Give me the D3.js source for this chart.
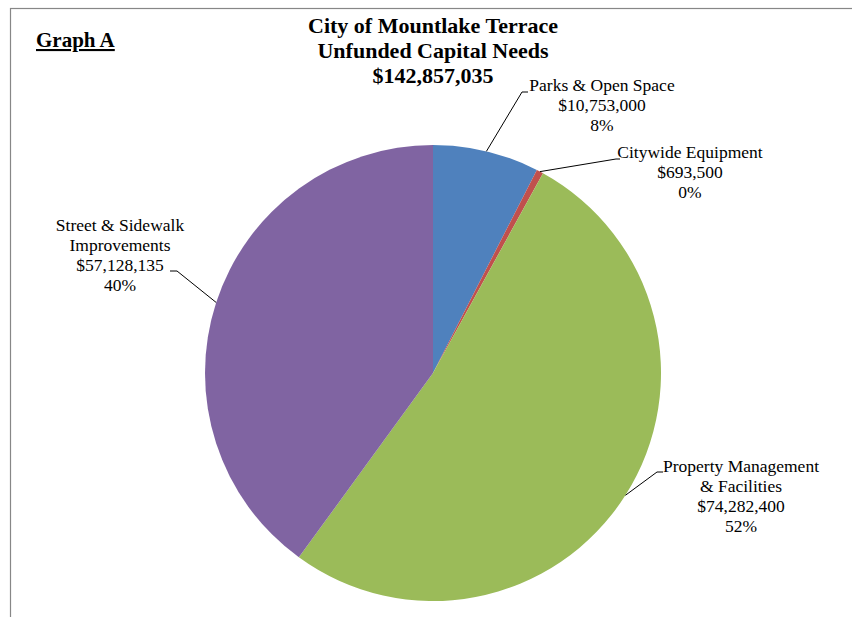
<!DOCTYPE html>
<html>
<head>
<meta charset="utf-8">
<script src="https://cdn.jsdelivr.net/npm/d3@7"></script>
<style>
  html, body { margin: 0; padding: 0; background: #fff; }
  svg text { font-family: "Liberation Serif", "Times New Roman", serif; fill: #000; }
</style>
</head>
<body>
<div id="chart"></div>
<script>
const categories = ["Parks & Open Space", "Citywide Equipment", "Property Management & Facilities", "Street & Sidewalk Improvements"];
const amounts = [10753000, 693500, 74282400, 57128135];
const colors = ["#4F81BD", "#C0504D", "#9BBB59", "#8064A2"];
const labelLines = [
    ["Parks & Open Space"],
    ["Citywide Equipment"],
    ["Property Management", "& Facilities"],
    ["Street & Sidewalk", "Improvements"]
];
const titleLines = ["City of Mountlake Terrace", "Unfunded Capital Needs", "$142,857,035"];

const CHART = { width: 852, height: 617, cx: 433, cy: 373, r: 228 };

// label block anchor (center x, first baseline y) and leader elbow
const labelLayout = [
    { x: 602, y: 91, elbow: [522, 92], end: [528, 92] },
    { x: 690, y: 158, elbow: [616, 159], end: [620, 159] },
    { x: 741, y: 472, elbow: [657, 472], end: [663, 472] },
    { x: 120, y: 231, elbow: [177, 271], end: [170, 271] }
];

const svg = d3.select("#chart").append("svg")
    .attr("width", CHART.width).attr("height", CHART.height);

// frame
svg.append("rect")
    .attr("x", 10.5).attr("y", 8.5)
    .attr("width", CHART.width + 20).attr("height", CHART.height + 20)
    .attr("fill", "none").attr("stroke", "#878787").attr("stroke-width", 1.2);

svg.append("text")
    .attr("x", 36).attr("y", 47)
    .attr("font-size", "21px").attr("font-weight", "bold")
    .attr("text-decoration", "underline")
    .text("Graph A");

svg.append("g").selectAll("text")
    .data(titleLines).join("text")
    .attr("x", CHART.cx).attr("y", (d, i) => 33 + i * 25)
    .attr("text-anchor", "middle")
    .attr("font-size", "22px").attr("font-weight", "bold")
    .text(d => d);

const total = d3.sum(amounts);
const pie = d3.pie().sort(null).value(d => d);
const arcs = pie(amounts);
const arc = d3.arc().innerRadius(0).outerRadius(CHART.r);

const g = svg.append("g").attr("transform", `translate(${CHART.cx},${CHART.cy})`);
g.selectAll("path")
    .data(arcs).join("path")
    .attr("d", arc)
    .attr("fill", (d, i) => colors[i]);

const fmtMoney = d3.format("$,");
const fmtPct = v => Math.round(v * 100) + "%";

arcs.forEach((a, i) => {
    const mid = (a.startAngle + a.endAngle) / 2;
    const px = CHART.cx + CHART.r * Math.sin(mid);
    const py = CHART.cy - CHART.r * Math.cos(mid);
    const L = labelLayout[i];

    svg.append("polyline")
        .attr("points", [[px, py], L.elbow, L.end].map(p => p.join(",")).join(" "))
        .attr("fill", "none").attr("stroke", "#000").attr("stroke-width", 1);

    const lines = [...labelLines[i], fmtMoney(amounts[i]), fmtPct(amounts[i] / total)];
    svg.append("g").selectAll("text")
        .data(lines).join("text")
        .attr("x", L.x).attr("y", (d, j) => L.y + j * 20)
        .attr("text-anchor", "middle")
        .attr("font-size", "17.5px")
        .text(d => d);
});
</script>
</body>
</html>
